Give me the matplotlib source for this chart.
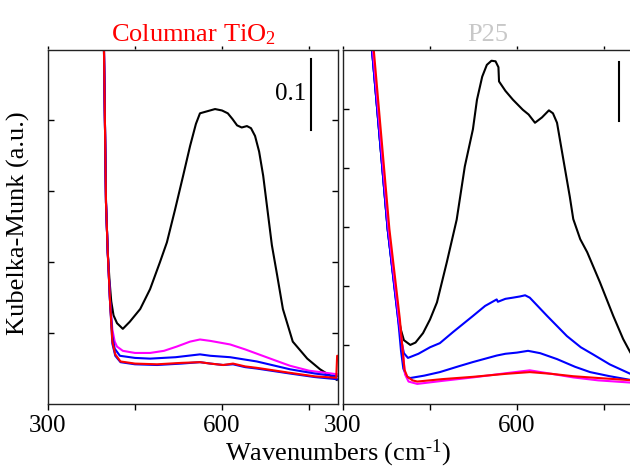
import matplotlib
matplotlib.use("Agg")
import matplotlib.pyplot as plt

plt.rcParams["font.family"] = ["Liberation Serif", "DejaVu Serif"]
plt.rcParams["mathtext.fontset"] = "custom"
plt.rcParams["mathtext.rm"] = "Liberation Serif"
plt.rcParams["mathtext.it"] = "Liberation Serif:italic"

# ---- Columnar TiO2 spectra (wavenumber cm-1, Kubelka-Munk) ----
col_black_w = [393, 396.5, 400, 403, 406, 409, 413, 419, 429, 441, 459, 476, 493, 505, 519, 533,
               545, 555, 562, 575, 588, 600, 610, 618, 626, 634, 643, 650, 657, 664, 671, 686,
               695, 705, 722, 747, 769, 798]
col_black_v = [0.60, 0.50, 0.284, 0.214, 0.175, 0.145, 0.125, 0.114, 0.106, 0.116, 0.134, 0.162,
               0.200, 0.228, 0.274, 0.322, 0.364, 0.395, 0.410, 0.413, 0.416, 0.414, 0.410, 0.402,
               0.393, 0.390, 0.392, 0.389, 0.378, 0.356, 0.322, 0.224, 0.182, 0.134, 0.088, 0.064,
               0.049, 0.034]

col_mag_w = [393, 396.5, 400, 403, 407, 411, 415, 419, 429, 450, 476, 500, 522, 545, 562, 580, 614,
             640, 660, 690, 717, 750, 798]
col_mag_v = [0.60, 0.50, 0.284, 0.214, 0.144, 0.105, 0.088, 0.081, 0.075, 0.072, 0.072, 0.075,
             0.081, 0.088, 0.091, 0.089, 0.084, 0.077, 0.071, 0.062, 0.054, 0.047, 0.042]

col_blue1_w = [393, 396.5, 400, 403, 407, 411, 415, 424, 450, 476, 520, 562, 580, 614, 660, 717,
               760, 798]
col_blue1_v = [0.60, 0.50, 0.284, 0.214, 0.144, 0.095, 0.078, 0.068, 0.065, 0.064, 0.066, 0.070,
               0.068, 0.066, 0.060, 0.049, 0.043, 0.039]

col_blue2_w = [393, 396.5, 400, 403, 407, 411, 416, 425, 450, 488, 530, 562, 580, 602, 619, 640,
               660, 717, 760, 798]
col_blue2_v = [0.60, 0.50, 0.284, 0.214, 0.144, 0.085, 0.068, 0.059, 0.056, 0.055, 0.057, 0.059,
               0.057, 0.055, 0.056, 0.052, 0.050, 0.043, 0.038, 0.035]

col_red_w = [393, 396.5, 400, 403, 407, 411, 416, 425, 450, 488, 530, 562, 580, 602, 619, 640,
             660, 717, 760, 797, 798.5, 800]
col_red_v = [0.60, 0.50, 0.284, 0.214, 0.144, 0.088, 0.070, 0.060, 0.057, 0.056, 0.058, 0.059,
             0.057, 0.055, 0.057, 0.053, 0.051, 0.044, 0.039, 0.037, 0.068, 0.068]

# ---- P25 spectra ----
p25_black_w = [347, 350, 377, 395, 400, 405, 416, 425, 438, 450, 462, 479, 496, 510, 524, 531,
               540, 548, 556, 563, 568, 569, 580, 593, 610, 620, 631, 643, 655, 662, 669, 679,
               691, 697, 709, 721, 743, 766, 783, 795, 800]
p25_black_v = [0.62, 0.60, 0.296, 0.150, 0.125, 0.108, 0.100, 0.104, 0.120, 0.143, 0.172, 0.240,
               0.312, 0.402, 0.465, 0.515, 0.554, 0.574, 0.581, 0.580, 0.570, 0.546, 0.530, 0.515,
               0.498, 0.490, 0.476, 0.485, 0.497, 0.492, 0.476, 0.419, 0.351, 0.313, 0.279, 0.257,
               0.206, 0.149, 0.110, 0.088, 0.080]

p25_blue1_w = [347, 350, 377, 395, 400, 405, 412, 430, 450, 467, 490, 524, 545, 565, 567, 580,
               593, 605, 614, 622, 652, 686, 710, 731, 760, 800]
p25_blue1_v = [0.62, 0.60, 0.296, 0.144, 0.110, 0.086, 0.078, 0.085, 0.096, 0.103, 0.122, 0.149,
               0.166, 0.177, 0.173, 0.178, 0.180, 0.182, 0.184, 0.180, 0.149, 0.115, 0.096, 0.084,
               0.067, 0.049]

p25_blue2_w = [347, 350, 377, 395, 400, 404, 410, 416, 440, 467, 500, 524, 565, 580, 600, 619,
               640, 669, 700, 726, 760, 800]
p25_blue2_v = [0.62, 0.60, 0.296, 0.144, 0.090, 0.060, 0.046, 0.044, 0.048, 0.054, 0.064, 0.071,
               0.082, 0.085, 0.087, 0.090, 0.086, 0.076, 0.063, 0.054, 0.047, 0.040]

p25_mag_w = [348.5, 351.5, 378.5, 396.5, 402, 407, 413, 428, 470, 524, 580, 622, 660, 697, 740,
             800]
p25_mag_v = [0.62, 0.60, 0.296, 0.144, 0.100, 0.050, 0.038, 0.034, 0.039, 0.045, 0.052, 0.057,
             0.051, 0.045, 0.040, 0.036]

p25_red_w = [350, 353, 380, 398, 402, 406, 411, 420, 428, 470, 524, 580, 622, 660, 697, 740, 800]
p25_red_v = [0.62, 0.60, 0.296, 0.144, 0.100, 0.058, 0.046, 0.040, 0.038, 0.042, 0.046, 0.051,
             0.054, 0.051, 0.047, 0.044, 0.040]

xticks = [300, 450, 600, 750]
xtick_labels = ["300", "", "600", ""]
yticks_col = [0.1, 0.2, 0.3, 0.4]
yticks_p25 = [0.1, 0.2, 0.3, 0.4, 0.5]

W, H = 630, 469
fig = plt.figure(figsize=(W / 100, H / 100), dpi=100)

bottom = 1 - 404 / H
height = (404 - 49.5) / H
ax1 = fig.add_axes([48 / W, bottom, 290 / W, height])
ax2 = fig.add_axes([343 / W, bottom, 290 / W, height])

lw = 1.5
ax1.plot(col_black_w, col_black_v, color="black", lw=lw)
ax1.plot(col_mag_w, col_mag_v, color="#ff00ff", lw=lw)
ax1.plot(col_blue1_w, col_blue1_v, color="#0000ff", lw=lw)
ax1.plot(col_blue2_w, col_blue2_v, color="#0000ff", lw=lw)
ax1.plot(col_red_w, col_red_v, color="#ff0000", lw=lw)

ax2.plot(p25_black_w, p25_black_v, color="black", lw=lw)
ax2.plot(p25_blue1_w, p25_blue1_v, color="#0000ff", lw=lw)
ax2.plot(p25_blue2_w, p25_blue2_v, color="#0000ff", lw=lw)
ax2.plot(p25_mag_w, p25_mag_v, color="#ff00ff", lw=lw)
ax2.plot(p25_red_w, p25_red_v, color="#ff0000", lw=lw)

for ax, yt, ytop, rt in ((ax1, yticks_col, 0.5, True), (ax2, yticks_p25, 0.6, False)):
    ax.set_xticks(xticks)
    ax.set_xticklabels(xtick_labels, fontsize=18)
    ax.set_yticks(yt)
    ax.set_yticklabels([])
    ax.set_xlim(300, 800)
    ax.set_ylim(0, ytop)
    ax.tick_params(axis="x", which="both", direction="out", length=4, width=1,
                   top=False, pad=4)
    ax.tick_params(axis="y", which="both", direction="in", length=4, width=1,
                   left=True, right=rt)
    for s in ax.spines.values():
        s.set_linewidth(1.0)
        s.set_color("#222222")
    sec = ax.secondary_xaxis("top")
    sec.set_xticks(xticks)
    sec.tick_params(direction="out", length=2.5, width=1, labeltop=False)
    sec.spines["top"].set_visible(False)

# scale bars (0.1 in Kubelka-Munk units)
ax1.plot([754, 754], [0.387, 0.487], color="black", lw=1.5)
ax1.text(745, 0.437, "0.1", fontsize=18, ha="right", va="center")
ax2.plot([776, 776], [0.479, 0.579], color="black", lw=1.5)

ax1.set_title("Columnar TiO$_2$", color="#ff0000", fontsize=19, pad=6)
ax2.set_title("P25", color="#c8c8c8", fontsize=19, pad=6)

fig.text(338 / W, 1 - 453 / H, "Wavenumbers (cm$^{\\text{-}1}$)", fontsize=19,
         ha="center", va="center")
fig.text(18 / W, 1 - 223 / H, "Kubelka-Munk (a.u.)", fontsize=19,
         ha="center", va="center", rotation=90)

fig.savefig("out.png", dpi=100)
